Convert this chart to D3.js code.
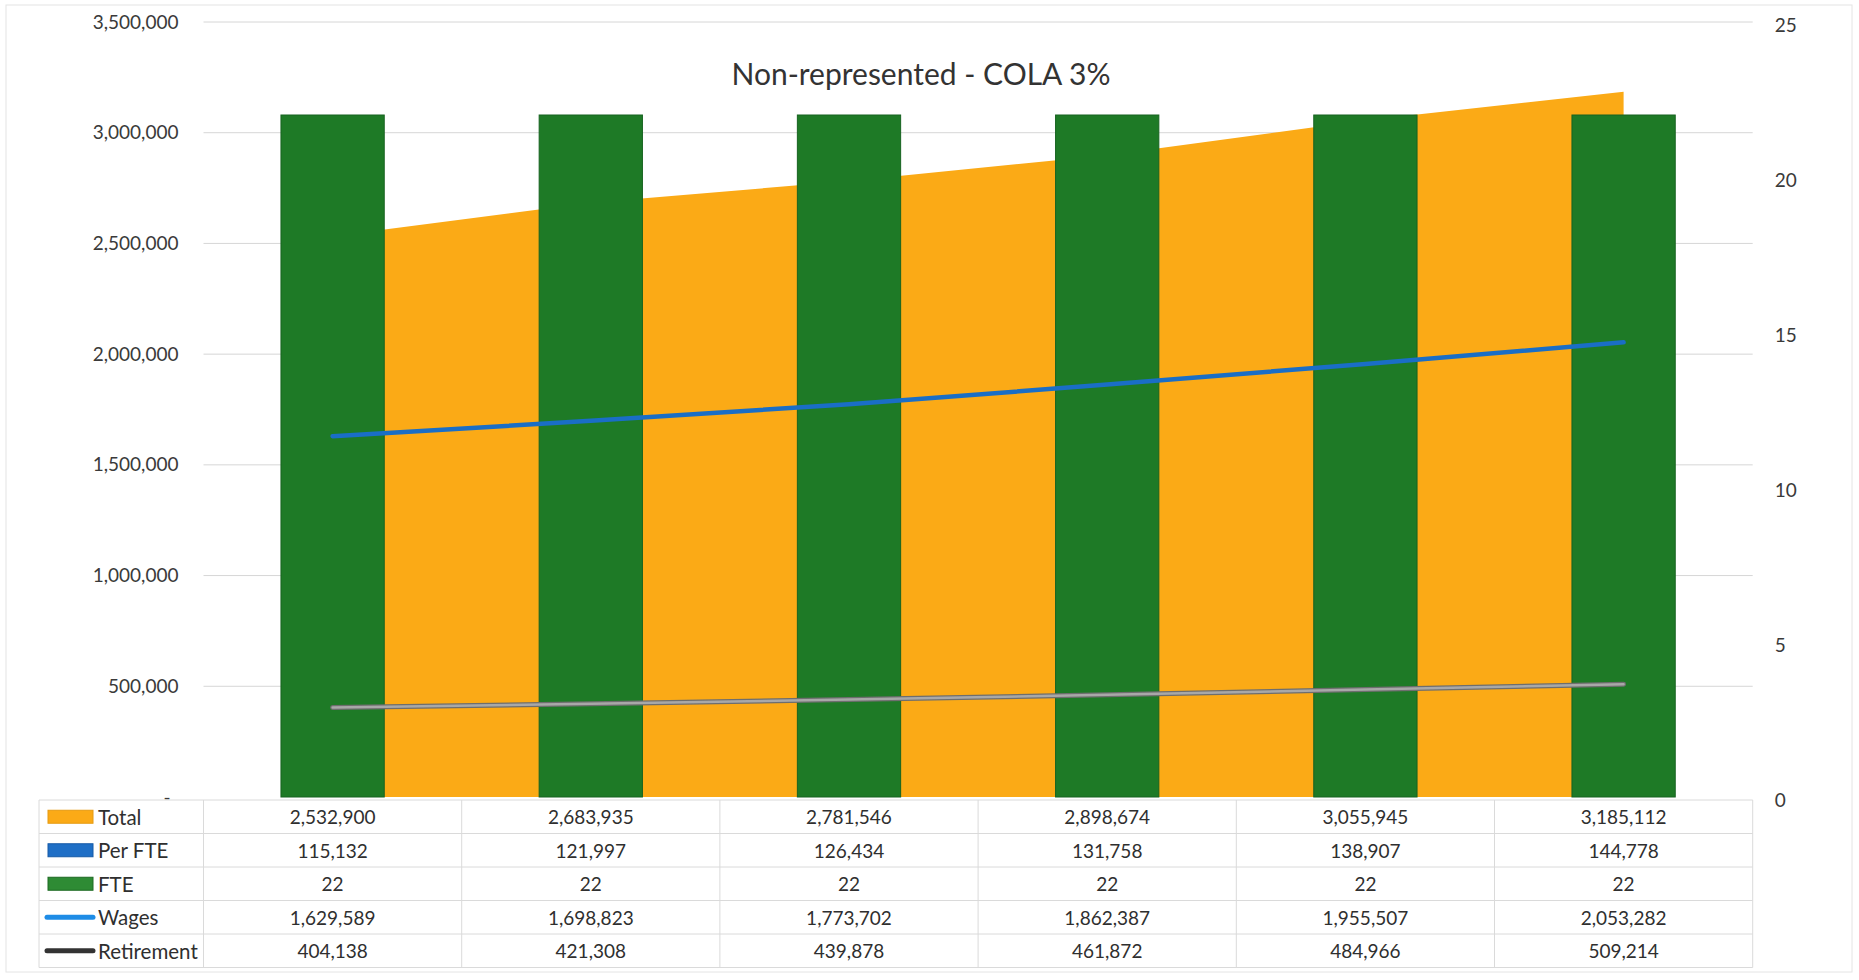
<!DOCTYPE html>
<html>
<head>
<meta charset="utf-8">
<script src="https://cdn.jsdelivr.net/npm/d3@7"></script>
<style>
  html, body { margin: 0; padding: 0; background: #ffffff; }
  svg { display: block; }
  text { font-family: Lato, "Open Sans", "Noto Sans", sans-serif; }
</style>
</head>
<body>
<svg id="chart" width="1859" height="980"></svg>
<script>
// Six projection periods (columns of the data table)
const periods = ["P1", "P2", "P3", "P4", "P5", "P6"];

// Series values
const total      = [2532900, 2683935, 2781546, 2898674, 3055945, 3185112];
const perFte     = [115132, 121997, 126434, 131758, 138907, 144778];
const fte        = [22, 22, 22, 22, 22, 22];
const wages      = [1629589, 1698823, 1773702, 1862387, 1955507, 2053282];
const retirement = [404138, 421308, 439878, 461872, 484966, 509214];

// Axis ticks
const leftTicks  = [0, 500000, 1000000, 1500000, 2000000, 2500000, 3000000, 3500000];
const rightTicks = [0, 5, 10, 15, 20, 25];

const titleText = "Non-represented - COLA 3%";

// Rows of the data table under the plot
const tableRows = [
  { name: "Total",      values: total,      key: "box",  color: "#FBAA16", edge: "#e59a10" },
  { name: "Per FTE",    values: perFte,     key: "box",  color: "#1F6FC6", edge: "#165aa6" },
  { name: "FTE",        values: fte,        key: "box",  color: "#2E8B34", edge: "#1d6a22" },
  { name: "Wages",      values: wages,      key: "line", color: "#1E8CE6" },
  { name: "Retirement", values: retirement, key: "line", color: "#333333" }
];

const svg = d3.select("#chart");

const plot = { left: 203.5, right: 1752.7, top: 22, bottom: 797 };
const table = { left: 39, top: 800, rowH: 33.5 };

const x = d3.scaleBand()
  .domain(periods)
  .range([plot.left, plot.right])
  .paddingInner(0.6)
  .paddingOuter(0.3);
const cx = p => x(p) + x.bandwidth() / 2;

const yL = d3.scaleLinear().domain([0, 3500000]).range([plot.bottom, plot.top]);
const yR = d3.scaleLinear().domain([0, 25]).range([plot.bottom, plot.top]);

const fmt = d3.format(",");

// Faint outer chart border
svg.append("rect")
  .attr("x", 6).attr("y", 5).attr("width", 1846).attr("height", 967)
  .attr("fill", "none").attr("stroke", "#e4e4e4").attr("stroke-width", 1);

// Horizontal gridlines from the primary axis
svg.append("g")
  .selectAll("line")
  .data(leftTicks.slice(1))
  .join("line")
  .attr("x1", plot.left).attr("x2", plot.right)
  .attr("y1", d => yL(d)).attr("y2", d => yL(d))
  .attr("stroke", "#d6d6d6").attr("stroke-width", 1);

// Total as an area between the first and last period centres
const area = d3.area()
  .x((d, i) => cx(periods[i]))
  .y0(yL(0))
  .y1(d => yL(d));
svg.append("path")
  .datum(total)
  .attr("d", area)
  .attr("fill", "#FBAA16");

// FTE columns on the secondary axis
svg.append("g")
  .selectAll("rect")
  .data(fte)
  .join("rect")
  .attr("x", (d, i) => x(periods[i]))
  .attr("width", x.bandwidth())
  .attr("y", d => yR(d))
  .attr("height", d => yR(0) - yR(d))
  .attr("fill", "#1E7A26")
  .attr("stroke", "#176320")
  .attr("stroke-width", 1);

// Wages and Retirement lines
const line = d3.line()
  .x((d, i) => cx(periods[i]))
  .y(d => yL(d));

svg.append("path")
  .datum(retirement)
  .attr("d", line)
  .attr("fill", "none")
  .attr("stroke", "#6e6e6e")
  .attr("stroke-width", 5)
  .attr("stroke-linecap", "round");
svg.append("path")
  .datum(retirement)
  .attr("d", line)
  .attr("fill", "none")
  .attr("stroke", "#a8a8a8")
  .attr("stroke-width", 2.5)
  .attr("stroke-linecap", "round");

svg.append("path")
  .datum(wages)
  .attr("d", line)
  .attr("fill", "none")
  .attr("stroke", "#1A6EC6")
  .attr("stroke-width", 4.5)
  .attr("stroke-linecap", "round");

// Primary (left) axis
const leftAxis = svg.append("g")
  .attr("transform", `translate(${plot.left},0)`)
  .call(d3.axisLeft(yL).tickValues(leftTicks)
    .tickFormat(d => d === 0 ? "-" : fmt(d))
    .tickSize(0).tickPadding(25));
leftAxis.select(".domain").remove();
leftAxis.selectAll("text")
  .attr("font-size", 19)
  .attr("fill", "#3a3a3a")
  .attr("font-family", "Lato, sans-serif")
  .attr("dx", d => d === 0 ? -8 : 0);

// Secondary (right) axis
const rightAxis = svg.append("g")
  .attr("transform", `translate(${plot.right},0)`)
  .call(d3.axisRight(yR).tickValues(rightTicks)
    .tickSize(0).tickPadding(22));
rightAxis.select(".domain").remove();
rightAxis.selectAll("text")
  .attr("font-size", 19)
  .attr("fill", "#3a3a3a")
  .attr("font-family", "Lato, sans-serif")
  .attr("y", 3);

// Title
svg.append("text")
  .attr("x", 921).attr("y", 73)
  .attr("text-anchor", "middle")
  .attr("dominant-baseline", "central")
  .attr("font-size", 30)
  .attr("fill", "#333333")
  .text(titleText);

// Data table
const tbl = svg.append("g");
const nRows = tableRows.length;
const tableBottom = table.top + nRows * table.rowH;
const colEdges = [table.left].concat(periods.map(p => cx(p) - x.step() / 2), [plot.right]);

tbl.selectAll("line.h")
  .data(d3.range(nRows + 1))
  .join("line")
  .attr("class", "h")
  .attr("x1", table.left).attr("x2", plot.right)
  .attr("y1", i => table.top + i * table.rowH)
  .attr("y2", i => table.top + i * table.rowH)
  .attr("stroke", "#dadada").attr("stroke-width", 1);

tbl.selectAll("line.v")
  .data(colEdges)
  .join("line")
  .attr("class", "v")
  .attr("x1", d => d).attr("x2", d => d)
  .attr("y1", table.top).attr("y2", tableBottom)
  .attr("stroke", "#dadada").attr("stroke-width", 1);

const rowG = tbl.selectAll("g.row")
  .data(tableRows)
  .join("g")
  .attr("class", "row")
  .attr("transform", (d, i) => `translate(0,${table.top + (i + 0.5) * table.rowH})`);

// Legend keys
rowG.filter(d => d.key === "box").append("rect")
  .attr("x", 48).attr("y", -6.5).attr("width", 45).attr("height", 13)
  .attr("fill", d => d.color)
  .attr("stroke", d => d.edge).attr("stroke-width", 1);
rowG.filter(d => d.key === "line").append("line")
  .attr("x1", 47).attr("x2", 93).attr("y1", 0).attr("y2", 0)
  .attr("stroke", d => d.color).attr("stroke-width", 5)
  .attr("stroke-linecap", "round");

// Series names
rowG.append("text")
  .attr("x", 98).attr("y", 0)
  .attr("dominant-baseline", "central")
  .attr("font-size", 20.5)
  .attr("fill", "#2f2f2f")
  .text(d => d.name);

// Values
rowG.selectAll("text.val")
  .data(d => d.values.map((v, i) => ({ v, p: periods[i] })))
  .join("text")
  .attr("class", "val")
  .attr("x", d => cx(d.p)).attr("y", 0)
  .attr("text-anchor", "middle")
  .attr("dominant-baseline", "central")
  .attr("font-size", 19)
  .attr("fill", "#2f2f2f")
  .text(d => fmt(d.v));
</script>
</body>
</html>
